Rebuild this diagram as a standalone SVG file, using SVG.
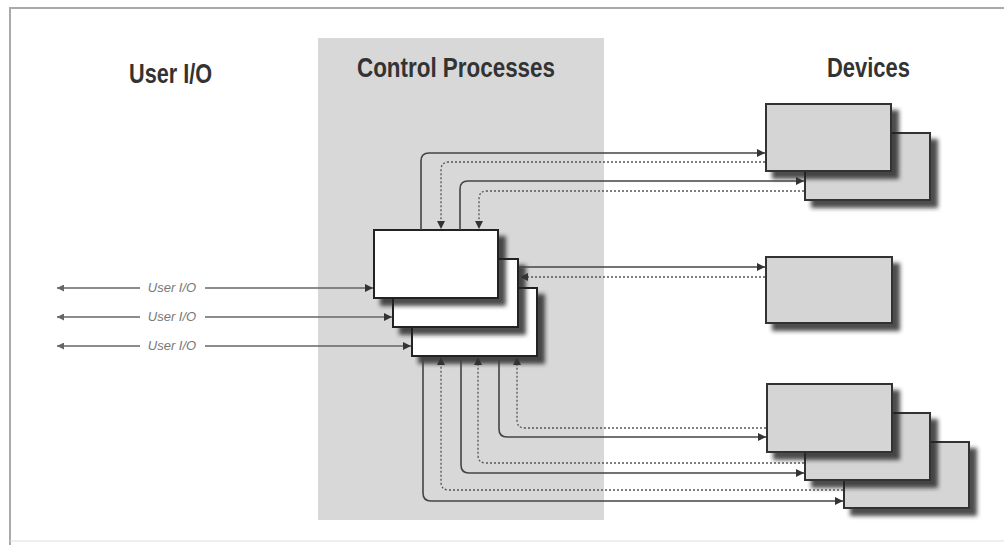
<svg xmlns="http://www.w3.org/2000/svg" width="1004" height="545" viewBox="0 0 1004 545">
<defs>
<style>
.title{font-family:"Liberation Sans",Arial,sans-serif;font-weight:bold;font-size:27px;fill:#333}
.lbl{font-family:"Liberation Sans",Arial,sans-serif;font-style:italic;font-size:13px;fill:#777}
.proc{fill:#fff;stroke:#222;stroke-width:2}
.dev{fill:#d5d5d5;stroke:#333;stroke-width:2}
.solid{fill:none;stroke:#444;stroke-width:1.6}
.dot{fill:none;stroke:#555;stroke-width:1.3;stroke-dasharray:2 2}
.uio{fill:none;stroke:#666;stroke-width:1.3}
</style>
<filter id="sh" x="-10%" y="-10%" width="130%" height="140%">
<feDropShadow dx="7" dy="7" stdDeviation="2.2" flood-color="#222" flood-opacity="0.8"/>
</filter>
<marker id="ah" viewBox="0 0 10 10" refX="10" refY="5" markerWidth="10" markerHeight="8" markerUnits="userSpaceOnUse" orient="auto-start-reverse">
<path d="M0,0 L10,5 L0,10 z" fill="#333"/>
</marker>
<marker id="ahl" viewBox="0 0 10 10" refX="10" refY="5" markerWidth="10" markerHeight="7" markerUnits="userSpaceOnUse" orient="auto-start-reverse">
<path d="M0,0 L10,5 L0,10 z" fill="#666"/>
</marker>
</defs>
<rect x="0" y="0" width="1004" height="545" fill="#fff"/>
<g id="frame">
<path d="M10,545 V8 H1004" fill="none" stroke="#aaa" stroke-width="2"/>
<path d="M10,541 H1004" fill="none" stroke="#ddd" stroke-width="1"/>
</g>
<rect id="control-column" x="318" y="38" width="286" height="482" fill="#d8d8d8"/>
<g id="titles">
<text class="title" x="129" y="83" textLength="83" lengthAdjust="spacingAndGlyphs">User I/O</text>
<text class="title" x="357" y="77" textLength="198" lengthAdjust="spacingAndGlyphs">Control Processes</text>
<text class="title" x="827" y="77" textLength="83" lengthAdjust="spacingAndGlyphs">Devices</text>
</g>
<g id="process-3"><rect class="proc" x="412" y="288" width="125" height="68" filter="url(#sh)"/></g>
<g id="process-2"><rect class="proc" x="393" y="259" width="125" height="68" filter="url(#sh)"/></g>
<g id="process-1"><rect class="proc" x="374" y="230" width="124" height="68" filter="url(#sh)"/></g>
<g id="device-top-2"><rect class="dev" x="805" y="133" width="125" height="67" filter="url(#sh)"/></g>
<g id="device-top-1"><rect class="dev" x="766" y="104" width="125" height="67" filter="url(#sh)"/></g>
<g id="device-mid"><rect class="dev" x="766" y="257" width="126" height="66" filter="url(#sh)"/></g>
<g id="device-bot-3"><rect class="dev" x="844" y="442" width="125" height="66" filter="url(#sh)"/></g>
<g id="device-bot-2"><rect class="dev" x="805" y="413" width="125" height="67" filter="url(#sh)"/></g>
<g id="device-bot-1"><rect class="dev" x="767" y="384" width="125" height="68" filter="url(#sh)"/></g>
<g id="connectors">
<path class="solid" d="M421,230 V161 Q421,153 429,153 H765" marker-end="url(#ah)"/>
<path class="dot" d="M765,162 H449 Q441,162 441,170 V229" marker-end="url(#ah)"/>
<path class="solid" d="M460,230 V189 Q460,181 468,181 H804" marker-end="url(#ah)"/>
<path class="dot" d="M804,191 H487 Q479,191 479,199 V229" marker-end="url(#ah)"/>
<path class="solid" d="M519,267 H765" marker-end="url(#ah)"/>
<path class="dot" d="M765,277 H520" marker-end="url(#ah)"/>
<path class="solid" d="M499,357 V429 Q499,437 507,437 H766" marker-end="url(#ah)"/>
<path class="dot" d="M766,428 H525 Q517,428 517,420 V357" marker-end="url(#ah)"/>
<path class="solid" d="M461,357 V465 Q461,473 469,473 H804" marker-end="url(#ah)"/>
<path class="dot" d="M804,463 H486 Q478,463 478,455 V357" marker-end="url(#ah)"/>
<path class="solid" d="M423,357 V493 Q423,501 431,501 H843" marker-end="url(#ah)"/>
<path class="dot" d="M843,490 H449 Q441,490 441,482 V357" marker-end="url(#ah)"/>
<path class="uio" d="M140,288 H57" marker-end="url(#ahl)"/>
<path class="uio" d="M205,288 H373" marker-end="url(#ah)"/>
<path class="uio" d="M140,317 H57" marker-end="url(#ahl)"/>
<path class="uio" d="M205,317 H392" marker-end="url(#ah)"/>
<path class="uio" d="M140,346 H57" marker-end="url(#ahl)"/>
<path class="uio" d="M205,346 H411" marker-end="url(#ah)"/>
</g>
<g id="user-io-labels">
<text class="lbl" x="172" y="292" text-anchor="middle">User I/O</text>
<text class="lbl" x="172" y="321" text-anchor="middle">User I/O</text>
<text class="lbl" x="172" y="350" text-anchor="middle">User I/O</text>
</g>
</svg>
